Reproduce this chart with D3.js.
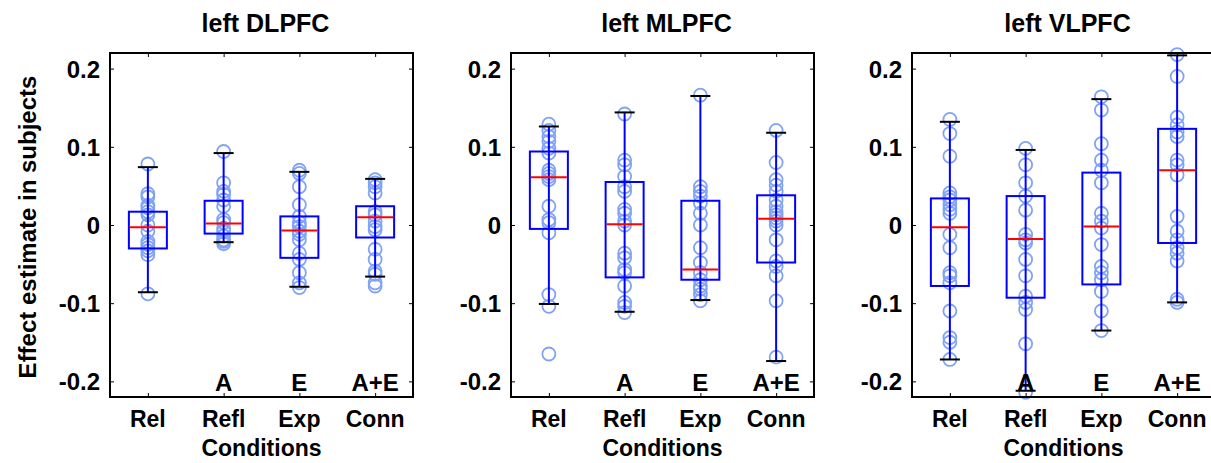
<!DOCTYPE html>
<html>
<head>
<meta charset="utf-8">
<script src="https://cdn.jsdelivr.net/npm/d3@7"></script>
<style>
  body { margin: 0; background: #fff; }
  svg text { font-family: "Liberation Sans", Arial, sans-serif; font-weight: bold; }
</style>
</head>
<body>
<div id="chart"></div>
<script>
/* Boxplots of effect estimates per condition, three PFC regions */

const regions = ["left DLPFC", "left MLPFC", "left VLPFC"];
const conditions = ["Rel", "Refl", "Exp", "Conn"];
const innerLabels = ["", "A", "E", "A+E"];
const yTicks = [-0.2, -0.1, 0, 0.1, 0.2];

// box stats per region: [whiskerLo, q1, median, q3, whiskerHi] for each condition
const dlpfcBoxes = [
  [-0.086, -0.030, -0.003, 0.017, 0.074],
  [-0.022, -0.011, 0.002, 0.031, 0.092],
  [-0.079, -0.042, -0.007, 0.011, 0.068],
  [-0.066, -0.016, 0.010, 0.024, 0.059]
];
const mlpfcBoxes = [
  [-0.101, -0.005, 0.061, 0.094, 0.126],
  [-0.111, -0.067, 0.001, 0.055, 0.144],
  [-0.096, -0.070, -0.057, 0.031, 0.165],
  [-0.174, -0.048, 0.008, 0.038, 0.118]
];
const vlpfcBoxes = [
  [-0.172, -0.078, -0.003, 0.034, 0.132],
  [-0.212, -0.093, -0.018, 0.037, 0.096],
  [-0.135, -0.076, -0.002, 0.067, 0.161],
  [-0.099, -0.023, 0.070, 0.123, 0.217]
];

// subject estimates
const dlpfcPoints = [
  [0.078, 0.040, 0.036, 0.025, 0.022, 0.017, 0.013, 0.000, -0.008, -0.021, -0.025, -0.029, -0.033, -0.038, -0.088],
  [0.094, 0.054, 0.043, 0.039, 0.032, 0.024, 0.007, 0.003, -0.004, -0.008, -0.014, -0.019, -0.021, -0.024],
  [0.070, 0.066, 0.049, 0.026, 0.011, 0.003, -0.002, -0.008, -0.012, -0.019, -0.036, -0.044, -0.061, -0.074, -0.080],
  [0.058, 0.054, 0.049, 0.041, 0.017, 0.013, 0.005, -0.002, -0.006, -0.031, -0.044, -0.059, -0.063, -0.074, -0.078]
];
const mlpfcPoints = [
  [0.129, 0.121, 0.113, 0.107, 0.098, 0.092, 0.070, 0.066, 0.062, 0.058, 0.024, 0.007, 0.003, -0.010, -0.089, -0.104, -0.165],
  [0.142, 0.083, 0.077, 0.062, 0.049, 0.043, 0.020, 0.015, 0.005, 0.000, -0.036, -0.042, -0.057, -0.061, -0.078, -0.099, -0.104, -0.112],
  [0.166, 0.049, 0.043, 0.037, 0.028, 0.015, 0.000, -0.029, -0.048, -0.061, -0.070, -0.078, -0.082, -0.089, -0.097],
  [0.121, 0.080, 0.058, 0.051, 0.043, 0.032, 0.024, 0.017, 0.013, 0.009, 0.005, 0.000, -0.019, -0.046, -0.053, -0.065, -0.097, -0.169]
];
const vlpfcPoints = [
  [0.135, 0.117, 0.088, 0.041, 0.036, 0.032, 0.026, 0.020, 0.015, -0.012, -0.029, -0.061, -0.065, -0.074, -0.110, -0.144, -0.150, -0.172],
  [0.098, 0.077, 0.054, 0.037, 0.019, -0.012, -0.019, -0.023, -0.044, -0.065, -0.091, -0.099, -0.108, -0.152, -0.214],
  [0.164, 0.147, 0.104, 0.083, 0.070, 0.054, 0.015, 0.005, -0.004, -0.025, -0.053, -0.061, -0.070, -0.085, -0.110, -0.135],
  [0.218, 0.190, 0.138, 0.128, 0.119, 0.113, 0.083, 0.077, 0.064, 0.011, -0.008, -0.019, -0.029, -0.036, -0.046, -0.095, -0.099]
];

const allBoxes = [dlpfcBoxes, mlpfcBoxes, vlpfcBoxes];
const allPoints = [dlpfcPoints, mlpfcPoints, vlpfcPoints];

const width = 1211, height = 463;
const panelLeft = [110, 511, 912];
const panelW = 303;
const plotTop = 53, plotBottom = 397;

let svg = d3.select("#chart")
  .append("svg")
  .attr("width", width)
  .attr("height", height);

let y = d3.scaleLinear()
  .domain([-0.22, 0.22])
  .range([plotBottom, plotTop]);

const boxW = 38, capW = 20;

regions.forEach((name, p) => {
  let left = panelLeft[p];
  let x = d3.scaleLinear()
    .domain([0.5, 4.5])
    .range([left, left + panelW]);

  let g = svg.append("g");

  /* circles first so the box draws over them */
  allPoints[p].forEach((vals, i) => {
    g.selectAll(null)
      .data(vals)
      .join("circle")
      .attr("cx", x(i + 1))
      .attr("cy", d => y(d))
      .attr("r", 6.5)
      .attr("fill", "none")
      .attr("stroke", "#80a4f3")
      .attr("stroke-width", 1.8);
  });

  allBoxes[p].forEach((b, i) => {
    let cx = x(i + 1);
    // whisker
    g.append("line")
      .attr("x1", cx).attr("x2", cx)
      .attr("y1", y(b[0])).attr("y2", y(b[4]))
      .attr("stroke", "#0000ff").attr("stroke-width", 2);
    // box
    g.append("rect")
      .attr("x", cx - boxW / 2)
      .attr("y", y(b[3]))
      .attr("width", boxW)
      .attr("height", y(b[1]) - y(b[3]))
      .attr("fill", "none")
      .attr("stroke", "#0000ff").attr("stroke-width", 2);
    // caps
    [b[0], b[4]].forEach(v => {
      g.append("line")
        .attr("x1", cx - capW / 2).attr("x2", cx + capW / 2)
        .attr("y1", y(v)).attr("y2", y(v))
        .attr("stroke", "#000").attr("stroke-width", 2);
    });
    // median
    g.append("line")
      .attr("x1", cx - boxW / 2 + 1).attr("x2", cx + boxW / 2 - 1)
      .attr("y1", y(b[2])).attr("y2", y(b[2]))
      .attr("stroke", "#ff0000").attr("stroke-width", 2);
  });

  // labels inside plot
  g.selectAll(null)
    .data(innerLabels)
    .join("text")
    .attr("x", (d, i) => x(i + 1))
    .attr("y", 391)
    .attr("text-anchor", "middle")
    .style("font-size", "24px")
    .text(d => d);

  // axes (ticks inside, MATLAB style)
  g.append("g")
    .attr("transform", `translate(${left},0)`)
    .call(d3.axisRight(y).tickValues(yTicks).tickSize(4).tickFormat(""))
    .call(a => a.select(".domain").remove());
  g.append("g")
    .attr("transform", `translate(${left + panelW},0)`)
    .call(d3.axisLeft(y).tickValues(yTicks).tickSize(4).tickFormat(""))
    .call(a => a.select(".domain").remove());
  g.append("g")
    .attr("transform", `translate(0,${plotBottom})`)
    .call(d3.axisTop(x).tickValues([1, 2, 3, 4]).tickSize(4).tickFormat(""))
    .call(a => a.select(".domain").remove());
  g.append("g")
    .attr("transform", `translate(0,${plotTop})`)
    .call(d3.axisBottom(x).tickValues([1, 2, 3, 4]).tickSize(4).tickFormat(""))
    .call(a => a.select(".domain").remove());

  g.append("rect")
    .attr("x", left).attr("y", plotTop)
    .attr("width", panelW).attr("height", plotBottom - plotTop)
    .attr("fill", "none")
    .attr("stroke", "#000").attr("stroke-width", 2);

  // y tick labels
  g.selectAll(null)
    .data(yTicks)
    .join("text")
    .attr("x", left - 10)
    .attr("y", d => y(d) + 9)
    .attr("text-anchor", "end")
    .style("font-size", "24px")
    .text(d => d === 0 ? "0" : d.toFixed(1));

  // x tick labels
  g.selectAll(null)
    .data(conditions)
    .join("text")
    .attr("x", (d, i) => x(i + 1))
    .attr("y", 427)
    .attr("text-anchor", "middle")
    .style("font-size", "23px")
    .text(d => d);

  g.append("text")
    .attr("x", left + panelW / 2)
    .attr("y", 456)
    .attr("text-anchor", "middle")
    .style("font-size", "23px")
    .text("Conditions");

  g.append("text")
    .attr("x", left + panelW / 2 + 4)
    .attr("y", 32)
    .attr("text-anchor", "middle")
    .style("font-size", "25px")
    .text(name);
});

svg.append("text")
  .attr("transform", `translate(36,227) rotate(-90)`)
  .attr("text-anchor", "middle")
  .style("font-size", "24px")
  .text("Effect estimate in subjects");
</script>
</body>
</html>
